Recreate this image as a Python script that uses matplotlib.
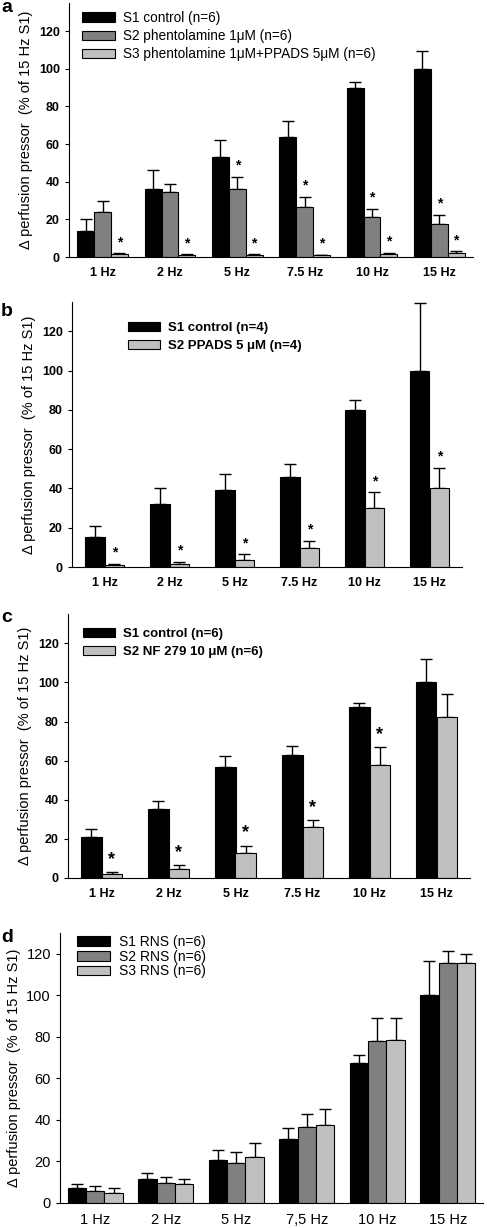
import matplotlib
matplotlib.use("Agg")
from matplotlib import pyplot as plt
import numpy as np

plt.rcParams["font.family"] = ["Liberation Sans", "DejaVu Sans"]

W, H = 487, 1228

freq_labels = ["1 Hz", "2 Hz", "5 Hz", "7.5 Hz", "10 Hz", "15 Hz"]
freq_labels_d = ["1 Hz", "2 Hz", "5 Hz", "7,5 Hz", "10 Hz", "15 Hz"]

# panel a
a_s1 = [14, 36, 53, 64, 90, 100]
a_s1_err = [6, 10.5, 9, 8.5, 3, 9.5]
a_s2 = [24, 34.5, 36, 26.5, 21.5, 17.5]
a_s2_err = [6, 4.5, 6.5, 5.5, 4, 5]
a_s3 = [1.5, 1.2, 1.2, 1.0, 1.8, 2.0]
a_s3_err = [0.5, 0.3, 0.3, 0.3, 0.5, 1.0]
a_star_s2 = [False, False, True, True, True, True]
a_star_s3 = [True] * 6

# panel b
b_s1 = [15.5, 32, 39, 46, 80, 100]
b_s1_err = [5.5, 8, 8.5, 6.5, 5, 34.5]
b_s2 = [1, 1.5, 3.5, 9.5, 30, 40]
b_s2_err = [0.5, 1, 3, 4, 8, 10.5]
b_star_s2 = [True] * 6

# panel c
c_s1 = [21, 35.5, 57, 63, 87.5, 100]
c_s1_err = [4, 4, 5.5, 4.5, 2, 12]
c_s2 = [2, 4.5, 13, 26, 58, 82.5]
c_s2_err = [1, 2, 3.5, 3.5, 9, 11.5]
c_star_s2 = [True, True, True, True, True, False]

# panel d
d_s1 = [7, 11.5, 20.5, 31, 67.5, 100]
d_s1_err = [2, 3, 5, 5, 4, 16.5]
d_s2 = [6, 9.5, 19.5, 36.5, 78, 115.5]
d_s2_err = [2, 3, 5, 6.5, 11, 6]
d_s3 = [5, 9, 22, 37.5, 78.5, 115.5]
d_s3_err = [2, 2.5, 7, 8, 10.5, 4.5]

BLACK = "#000000"
GREY = "#808080"
LIGHT = "#c0c0c0"
YLABEL = "\u0394 perfusion pressor  (% of 15 Hz S1)"

fig = plt.figure(figsize=(W / 100, H / 100), dpi=100)


def make_ax(left, right, top, bottom):
    return fig.add_axes([left / W, 1 - bottom / H, (right - left) / W, (bottom - top) / H])


def draw_panel(ax, series, width, labels, ylim, bold, star_size, tick_size):
    x = np.arange(len(labels))
    n = len(series)
    for i, (vals, errs, color, label, stars) in enumerate(series):
        pos = x + (i - (n - 1) / 2) * width
        ax.bar(pos, vals, width, color=color, edgecolor="black", linewidth=0.8,
               label=label, zorder=2)
        ax.errorbar(pos, vals, yerr=[np.zeros(len(vals)), errs], fmt="none",
                    ecolor="black", elinewidth=1.0, capsize=4, capthick=1.0, zorder=1)
        if stars is not None:
            for p, v, e, s in zip(pos, vals, errs, stars):
                if s:
                    ax.annotate("*", (p, v + e), xytext=(0, 3), textcoords="offset points",
                                ha="center", va="bottom", fontsize=star_size, fontweight="bold")
    ax.set_xlim(-0.5, len(labels) - 0.5)
    ax.set_ylim(*ylim)
    ax.set_yticks(range(0, 121, 20))
    ax.set_xticks(x)
    weight = "bold" if bold else "normal"
    ax.set_xticklabels(labels, fontsize=tick_size, fontweight=weight)
    for t in ax.get_yticklabels():
        t.set_fontsize(tick_size)
        t.set_fontweight(weight)
    ax.tick_params(axis="x", length=0, pad=7)
    ax.tick_params(axis="y", length=3, direction="out")
    ax.spines["top"].set_visible(False)
    ax.spines["right"].set_visible(False)
    ax.set_ylabel(YLABEL, fontsize=10.5)


def place_legend(ax, left_px, top_px, size, weight, spacing):
    ax.legend(loc="upper left", bbox_to_anchor=(left_px / W, 1 - top_px / H),
              bbox_transform=fig.transFigure, frameon=False,
              prop={"size": size, "weight": weight}, borderpad=0, borderaxespad=0,
              handlelength=2.4, handleheight=0.7, handletextpad=0.6, labelspacing=spacing)


# a
ax_a = make_ax(69, 473, 3, 257)
draw_panel(ax_a, [
    (a_s1, a_s1_err, BLACK, "S1 control (n=6)", None),
    (a_s2, a_s2_err, GREY, "S2 phentolamine 1\u03bcM (n=6)", a_star_s2),
    (a_s3, a_s3_err, LIGHT, "S3 phentolamine 1\u03bcM+PPADS 5\u03bcM (n=6)", a_star_s3),
], 0.25, freq_labels, (0, 135), True, 10, 9)
place_legend(ax_a, 82, 11, 9.8, "normal", 0.3)

# b
ax_b = make_ax(72, 462, 302, 567)
draw_panel(ax_b, [
    (b_s1, b_s1_err, BLACK, "S1 control (n=4)", None),
    (b_s2, b_s2_err, LIGHT, "S2 PPADS 5 \u03bcM (n=4)", b_star_s2),
], 0.3, freq_labels, (0, 135), True, 10, 9)
place_legend(ax_b, 128, 322, 9.5, "bold", 0.4)

# c
ax_c = make_ax(68, 470, 614, 878)
draw_panel(ax_c, [
    (c_s1, c_s1_err, BLACK, "S1 control (n=6)", None),
    (c_s2, c_s2_err, LIGHT, "S2 NF 279 10 \u03bcM (n=6)", c_star_s2),
], 0.31, freq_labels, (0, 135), True, 13, 9)
place_legend(ax_c, 83, 628, 9.5, "bold", 0.4)

# d
ax_d = make_ax(60, 483, 933, 1203)
draw_panel(ax_d, [
    (d_s1, d_s1_err, BLACK, "S1 RNS (n=6)", None),
    (d_s2, d_s2_err, GREY, "S2 RNS (n=6)", None),
    (d_s3, d_s3_err, LIGHT, "S3 RNS (n=6)", None),
], 0.26, freq_labels_d, (0, 130), False, 10, 10.5)
place_legend(ax_d, 77, 935, 10, "normal", 0.05)

for letter, ypix in [("a", 8), ("b", 312), ("c", 618), ("d", 937)]:
    fig.text(1 / W, 1 - ypix / H, letter, fontsize=14, fontweight="bold", va="center", ha="left")

fig.savefig("out.png", dpi=100)
